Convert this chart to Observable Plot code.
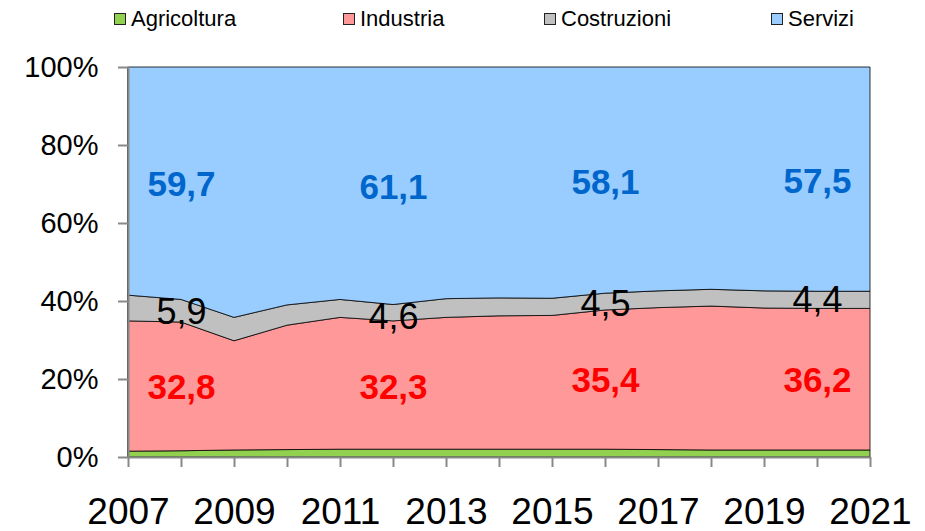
<!DOCTYPE html>
<html>
<head>
<meta charset="utf-8">
<script src="https://cdn.jsdelivr.net/npm/d3@7"></script>
<script src="https://cdn.jsdelivr.net/npm/@observablehq/plot@0.6"></script>
<style>
  body { margin: 0; background: #fff; font-family: "Liberation Sans", Arial, sans-serif; }
  #wrap { position: relative; width: 925px; height: 531px; }
  #legend { position: absolute; top: 0; left: 0; width: 925px; height: 38px; }
  .item { position: absolute; top: 7px; display: flex; align-items: center; font-size: 22px; line-height: 24px; color: #000; }
  .sw { width: 10px; height: 10px; border: 1px solid #222; margin-right: 5px; }
</style>
</head>
<body>
<div id="wrap"><div id="legend"></div></div>
<script>
const years = [2007,2008,2009,2010,2011,2012,2013,2014,2015,2016,2017,2018,2019,2020,2021];
const seriesNames = ["Agricoltura","Industria","Costruzioni","Servizi"];
const seriesColors = ["#92D050","#FF9999","#C0C0C0","#99CCFF"];
const agricoltura = [1.5,1.6,1.8,1.9,2.0,2.0,2.0,2.0,2.0,2.0,1.9,1.8,1.8,1.8,1.8];
const industria   = [33.4,33.0,28.0,31.9,33.8,32.9,33.8,34.2,34.3,35.7,36.4,36.9,36.4,36.3,36.3];
const costruzioni = [6.6,5.8,6.0,5.2,4.6,4.2,4.8,4.6,4.4,4.3,4.3,4.3,4.4,4.4,4.4];
const servizi     = [58.5,59.6,64.2,61.0,59.6,60.9,59.4,59.2,59.3,58.0,57.4,57.0,57.4,57.5,57.5];
const yTicks = [0,20,40,60,80,100];
const xLabelYears = [2007,2009,2011,2013,2015,2017,2019,2021];

// value annotations
const labelYears = [2008,2012,2016,2020];
const servLabels = ["59,7","61,1","58,1","57,5"];
const servLabelY = [69.9,69.1,70.4,70.7];
const indLabels = ["32,8","32,3","35,4","36,2"];
const indLabelY = [17.9,17.9,19.6,19.6];
const conLabels = ["5,9","4,6","4,5","4,4"];
const conLabelY = [37.2,36.0,39.3,40.3];

const seriesValues = [agricoltura, industria, costruzioni, servizi];
const rows = [];
years.forEach((yr, i) => {
  seriesNames.forEach((s, k) => rows.push({year: yr, series: s, value: seriesValues[k][i]}));
});
const ann = (labels, ys) => labels.map((t, i) => ({year: labelYears[i], y: ys[i], text: t}));

const chart = Plot.plot({
  width: 925,
  height: 531,
  marginTop: 67,
  marginBottom: 74,
  marginLeft: 128,
  marginRight: 55,
  style: {fontFamily: "Liberation Sans, Arial, sans-serif", background: "white", color: "black"},
  x: {type: "linear", domain: [2007, 2021]},
  y: {domain: [0, 100]},
  color: {domain: seriesNames, range: seriesColors},
  marks: [
    Plot.areaY(rows, {x: "year", y: "value", z: "series", fill: "series", order: seriesNames, stroke: "#000", strokeWidth: 0.8}),
    Plot.ruleX([2007], {stroke: "#888", strokeWidth: 2}),
    Plot.ruleY([0], {stroke: "#888", strokeWidth: 2}),
    Plot.axisY({ticks: yTicks, tickFormat: d => d + "%", tickSize: 10, tickPadding: 20, fontSize: 29, stroke: "#888", strokeWidth: 2, fill: "#000", label: null}),
    Plot.axisX({ticks: years, tickFormat: d => xLabelYears.includes(d) ? String(d) : "", tickSize: 10, tickPadding: 30, fontSize: 37, stroke: "#888", strokeWidth: 2, fill: "#000", label: null}),
    Plot.text(ann(servLabels, servLabelY), {x: "year", y: "y", text: "text", fontSize: 35, fontWeight: "bold", fill: "#0066CC", lineAnchor: "middle"}),
    Plot.text(ann(indLabels, indLabelY), {x: "year", y: "y", text: "text", fontSize: 35, fontWeight: "bold", fill: "#FF0000", lineAnchor: "middle"}),
    Plot.text(ann(conLabels, conLabelY), {x: "year", y: "y", text: "text", fontSize: 36, fill: "#000", lineAnchor: "middle"})
  ]
});
const wrap = document.getElementById("wrap");
wrap.insertBefore(chart, wrap.firstChild);

const legendLeft = [114, 343, 544, 771];
const legend = document.getElementById("legend");
seriesNames.forEach((s, i) => {
  const it = document.createElement("div");
  it.className = "item";
  it.style.left = legendLeft[i] + "px";
  const sw = document.createElement("span");
  sw.className = "sw";
  sw.style.background = seriesColors[i];
  it.appendChild(sw);
  it.appendChild(document.createTextNode(s));
  legend.appendChild(it);
});
</script>
</body>
</html>
